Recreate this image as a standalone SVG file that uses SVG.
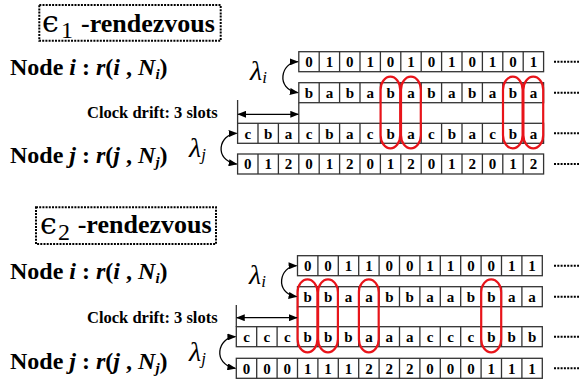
<svg xmlns="http://www.w3.org/2000/svg" width="579" height="386" viewBox="0 0 579 386">
  <defs>
    <marker id="ah" viewBox="0 0 10 8" refX="9" refY="4" markerWidth="9" markerHeight="7" markerUnits="userSpaceOnUse" orient="auto-start-reverse">
      <path d="M0,0 L10,4 L0,8 Z" fill="#000"/>
    </marker>
    <style>
      .cell { fill: #fff; stroke: #333; stroke-width: 1.3; }
      .div { fill: none; stroke: #333; stroke-width: 1.3; }
      .ct { font-weight: bold; font-size: 15px; text-anchor: middle; fill: #000; }
      .hit { fill: none; stroke: #e8141a; stroke-width: 2.2; }
      .dots { fill: none; stroke: #000; stroke-width: 2; stroke-dasharray: 2 1.3; }
      .frame { fill: #fff; stroke: #000; stroke-width: 2; stroke-dasharray: 2 1.2; }
      .lbl { font-weight: bold; font-size: 24px; fill: #000; }
      .it { font-style: italic; }
      .drift { font-weight: bold; font-size: 16.5px; fill: #000; }
      .ttl { font-weight: bold; font-size: 26px; fill: #000; }
      .eps { font-size: 30px; fill: #000; }
      .sub { font-size: 24px; fill: #000; }
      .lam { font-style: italic; font-size: 28px; fill: #000; }
      .lamsub { font-style: italic; font-size: 17px; fill: #000; }
      .conn { fill: none; stroke: #000; stroke-width: 1.3; }
    </style>
  </defs>

  <!-- ===== epsilon-1 rendezvous ===== -->
  <g id="title1">
    <rect class="frame" x="39.3" y="5" width="181.4" height="35.7"/>
    <text class="eps" font-family="DejaVu Serif" x="42" y="32">ϵ</text>
    <text class="sub" font-family="Liberation Serif" x="61" y="38">1</text>
    <text class="ttl" font-family="Liberation Serif" x="81" y="31.7">-rendezvous</text>
  </g>

  <g id="label-i1">
    <text class="lbl" font-family="Liberation Serif" x="10" y="75">Node <tspan class="it">i</tspan> : <tspan class="it">r</tspan>(<tspan class="it">i</tspan> , <tspan class="it">N</tspan><tspan class="it" font-size="15" dy="4">i</tspan><tspan dy="-4">)</tspan></text>
  </g>
  <g id="label-j1">
    <text class="lbl" font-family="Liberation Serif" x="10" y="163.3">Node <tspan class="it">j</tspan> : <tspan class="it">r</tspan>(<tspan class="it">j</tspan> , <tspan class="it">N</tspan><tspan class="it" font-size="15" dy="4">j</tspan><tspan dy="-4">)</tspan></text>
  </g>
  <g id="drift1">
    <text class="drift" font-family="Liberation Serif" x="87" y="118.3">Clock drift: 3 slots</text>
  </g>
  <g id="lambda-i1">
    <text class="lam" font-family="Liberation Serif" x="250" y="80">λ<tspan class="lamsub" dy="3">i</tspan></text>
  </g>
  <g id="lambda-j1">
    <text class="lam" font-family="Liberation Serif" x="189" y="157">λ<tspan class="lamsub" dy="3">j</tspan></text>
  </g>

  <!-- node i: channel index sequence -->
  <g id="seq-i1-index">
    <rect class="cell" x="298.8" y="51.7" width="244.8" height="20"/>
    <path class="div" d="M319.2,51.7v20M339.6,51.7v20M360,51.7v20M380.4,51.7v20M400.8,51.7v20M421.2,51.7v20M441.6,51.7v20M462,51.7v20M482.4,51.7v20M502.8,51.7v20M523.2,51.7v20"/>
    <text class="ct" font-family="Liberation Serif" x="309 329.4 349.8 370.2 390.6 411 431.4 451.8 472.2 492.6 513 533.4" y="67">010101010101</text>
  </g>
  <!-- node i: channel sequence -->
  <g id="seq-i1-chan">
    <rect class="cell" x="298.8" y="82.7" width="244.8" height="20"/>
    <path class="div" d="M298.8,102.7v20.6M319.2,82.7v20M339.6,82.7v20M360,82.7v20M380.4,82.7v20M400.8,82.7v20M421.2,82.7v20M441.6,82.7v20M462,82.7v20M482.4,82.7v20M502.8,82.7v20M523.2,82.7v20"/>
    <text class="ct" font-family="Liberation Serif" x="309 329.4 349.8 370.2 390.6 411 431.4 451.8 472.2 492.6 513 533.4" y="98">babababababa</text>
  </g>
  <!-- node j: channel sequence -->
  <g id="seq-j1-chan">
    <rect class="cell" x="237.6" y="123.3" width="306" height="20"/>
    <path class="div" d="M237.6,100v23.3M258,123.3v20M278.4,123.3v20M298.8,123.3v20M319.2,123.3v20M339.6,123.3v20M360,123.3v20M380.4,123.3v20M400.8,123.3v20M421.2,123.3v20M441.6,123.3v20M462,123.3v20M482.4,123.3v20M502.8,123.3v20M523.2,123.3v20"/>
    <text class="ct" font-family="Liberation Serif" x="247.8 268.2 288.6 309 329.4 349.8 370.2 390.6 411 431.4 451.8 472.2 492.6 513 533.4" y="138.6">cbacbacbacbacba</text>
  </g>
  <!-- node j: channel index sequence -->
  <g id="seq-j1-index">
    <rect class="cell" x="237.6" y="154" width="306" height="20"/>
    <path class="div" d="M258,154v20M278.4,154v20M298.8,154v20M319.2,154v20M339.6,154v20M360,154v20M380.4,154v20M400.8,154v20M421.2,154v20M441.6,154v20M462,154v20M482.4,154v20M502.8,154v20M523.2,154v20"/>
    <text class="ct" font-family="Liberation Serif" x="247.8 268.2 288.6 309 329.4 349.8 370.2 390.6 411 431.4 451.8 472.2 492.6 513 533.4" y="169.3">012012012012012</text>
  </g>
  <!-- rendezvous slots -->
  <g id="hits1">
    <rect class="hit" x="380.6" y="76.7" width="19.6" height="71.6" rx="9.8" ry="13"/>
    <rect class="hit" x="401" y="76.7" width="19.8" height="71.6" rx="9.9" ry="13"/>
    <rect class="hit" x="503" y="76.7" width="19.6" height="71.6" rx="9.8" ry="13"/>
    <rect class="hit" x="523.4" y="76.7" width="19.8" height="71.6" rx="9.9" ry="13"/>
  </g>
  <g id="more1">
    <path class="dots" d="M554,61.7H579M554,92.7H579M554,133.3H579M554,164H579"/>
  </g>

  <!-- ===== epsilon-2 rendezvous ===== -->
  <g id="title2">
    <rect class="frame" x="36" y="207.3" width="180" height="36.7"/>
    <text class="eps" font-family="DejaVu Serif" x="40" y="233.5">ϵ</text>
    <text class="sub" font-family="Liberation Serif" x="58" y="240">2</text>
    <text class="ttl" font-family="Liberation Serif" x="77.7" y="233.3">-rendezvous</text>
  </g>

  <g id="label-i2">
    <text class="lbl" font-family="Liberation Serif" x="10" y="279.3">Node <tspan class="it">i</tspan> : <tspan class="it">r</tspan>(<tspan class="it">i</tspan> , <tspan class="it">N</tspan><tspan class="it" font-size="15" dy="4">i</tspan><tspan dy="-4">)</tspan></text>
  </g>
  <g id="label-j2">
    <text class="lbl" font-family="Liberation Serif" x="10" y="369">Node <tspan class="it">j</tspan> : <tspan class="it">r</tspan>(<tspan class="it">j</tspan> , <tspan class="it">N</tspan><tspan class="it" font-size="15" dy="4">j</tspan><tspan dy="-4">)</tspan></text>
  </g>
  <g id="drift2">
    <text class="drift" font-family="Liberation Serif" x="87" y="323.3">Clock drift: 3 slots</text>
  </g>
  <g id="lambda-i2">
    <text class="lam" font-family="Liberation Serif" x="249" y="284">λ<tspan class="lamsub" dy="3">i</tspan></text>
  </g>
  <g id="lambda-j2">
    <text class="lam" font-family="Liberation Serif" x="189" y="361">λ<tspan class="lamsub" dy="3">j</tspan></text>
  </g>

  <g id="seq-i2-index">
    <rect class="cell" x="297.5" y="255.7" width="244.8" height="20"/>
    <path class="div" d="M317.9,255.7v20M338.3,255.7v20M358.7,255.7v20M379.1,255.7v20M399.5,255.7v20M419.9,255.7v20M440.3,255.7v20M460.7,255.7v20M481.1,255.7v20M501.5,255.7v20M521.9,255.7v20"/>
    <text class="ct" font-family="Liberation Serif" x="307.7 328.1 348.5 368.9 389.3 409.7 430.1 450.5 470.9 491.3 511.7 532.1" y="271">001100110011</text>
  </g>
  <g id="seq-i2-chan">
    <rect class="cell" x="297.5" y="286.7" width="244.8" height="20"/>
    <path class="div" d="M297.5,306.7v20M317.9,286.7v20M338.3,286.7v20M358.7,286.7v20M379.1,286.7v20M399.5,286.7v20M419.9,286.7v20M440.3,286.7v20M460.7,286.7v20M481.1,286.7v20M501.5,286.7v20M521.9,286.7v20"/>
    <text class="ct" font-family="Liberation Serif" x="307.7 328.1 348.5 368.9 389.3 409.7 430.1 450.5 470.9 491.3 511.7 532.1" y="302">bbaabbaabbaa</text>
  </g>
  <g id="seq-j2-chan">
    <rect class="cell" x="236.3" y="326.7" width="306" height="20"/>
    <path class="div" d="M236.3,305v21.7M256.7,326.7v20M277.1,326.7v20M297.5,326.7v20M317.9,326.7v20M338.3,326.7v20M358.7,326.7v20M379.1,326.7v20M399.5,326.7v20M419.9,326.7v20M440.3,326.7v20M460.7,326.7v20M481.1,326.7v20M501.5,326.7v20M521.9,326.7v20"/>
    <text class="ct" font-family="Liberation Serif" x="246.5 266.9 287.3 307.7 328.1 348.5 368.9 389.3 409.7 430.1 450.5 470.9 491.3 511.7 532.1" y="342">cccbbbaaacccbbb</text>
  </g>
  <g id="seq-j2-index">
    <rect class="cell" x="236.3" y="358.3" width="306" height="20"/>
    <path class="div" d="M256.7,358.3v20M277.1,358.3v20M297.5,358.3v20M317.9,358.3v20M338.3,358.3v20M358.7,358.3v20M379.1,358.3v20M399.5,358.3v20M419.9,358.3v20M440.3,358.3v20M460.7,358.3v20M481.1,358.3v20M501.5,358.3v20M521.9,358.3v20"/>
    <text class="ct" font-family="Liberation Serif" x="246.5 266.9 287.3 307.7 328.1 348.5 368.9 389.3 409.7 430.1 450.5 470.9 491.3 511.7 532.1" y="373.6">000111222000111</text>
  </g>
  <g id="hits2">
    <rect class="hit" x="297.6" y="279.3" width="19.8" height="73" rx="9.9" ry="13"/>
    <rect class="hit" x="318.1" y="279.3" width="19.8" height="73" rx="9.9" ry="13"/>
    <rect class="hit" x="358.9" y="279.3" width="19.8" height="73" rx="9.9" ry="13"/>
    <rect class="hit" x="481.2" y="279.3" width="20" height="73" rx="10" ry="13"/>
  </g>
  <g id="more2">
    <path class="dots" d="M554,265.7H579M554,296.7H579M554,336.7H579M554,368.3H579"/>
  </g>

  <!-- connectors: channel mappings and clock-drift spans -->
  <g id="connectors">
    <path class="conn" marker-start="url(#ah)" marker-end="url(#ah)" d="M297.8,61.7C281,62 275,89 297.8,92.7"/>
    <path class="conn" marker-start="url(#ah)" marker-end="url(#ah)" d="M236.6,133.3C219,134 213,160 236.6,164"/>
    <path class="conn" marker-start="url(#ah)" marker-end="url(#ah)" d="M238.2,114.3H298.2"/>
    <path class="conn" marker-start="url(#ah)" marker-end="url(#ah)" d="M296.5,265.7C279.7,266 273.7,293 296.5,296.7"/>
    <path class="conn" marker-start="url(#ah)" marker-end="url(#ah)" d="M235.3,336.7C217.7,337.4 211.7,364 235.3,368.3"/>
    <path class="conn" marker-start="url(#ah)" marker-end="url(#ah)" d="M236.9,317.7H296.9"/>
  </g>
</svg>
